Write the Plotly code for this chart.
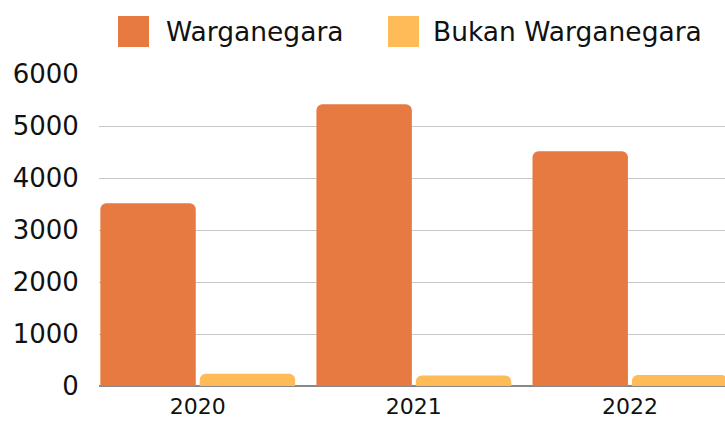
import plotly.graph_objects as go

# data
years = ['2020', '2021', '2022']
warganegara = [3515, 5420, 4515]
bukan_warganegara = [235, 200, 213]
series_names = ['Warganegara', 'Bukan Warganegara']
series_colours = ['#E67A40', '#FFBB58']
y_ticks = [0, 1000, 2000, 3000, 4000, 5000, 6000]

FONT = 'DejaVu Sans'
W, H = 725, 421
M_L, M_R, M_T, M_B = 99, 0, 74, 35


def px_x(p):
    """pixel x -> paper x"""
    return (p - M_L) / (W - M_L - M_R)


def px_y(p):
    """pixel y -> paper y"""
    return (H - M_B - p) / (H - M_T - M_B)


fig = go.Figure()
for name, vals, col in zip(series_names, [warganegara, bukan_warganegara], series_colours):
    fig.add_trace(go.Bar(x=years, y=vals, name=name,
                         marker=dict(color=col, line=dict(width=0), cornerradius=6),
                         showlegend=False))

# hand-drawn legend so the swatches can be large
legend_items = [(118, 167), (388, 434)]
for (sx, tx), name, col in zip(legend_items, series_names, series_colours):
    fig.add_shape(type='rect', xref='paper', yref='paper',
                  x0=px_x(sx), x1=px_x(sx + 31), y0=px_y(47), y1=px_y(16),
                  fillcolor=col, line=dict(width=0))
    fig.add_annotation(x=px_x(tx), y=px_y(31), xref='paper', yref='paper',
                       text=name, showarrow=False, xanchor='left', yanchor='middle',
                       xshift=-3,
                       font=dict(family=FONT, size=26.5, color='#111111'))

fig.update_layout(
    width=W, height=H,
    margin=dict(l=M_L, r=M_R, t=M_T, b=M_B, autoexpand=False),
    plot_bgcolor='white', paper_bgcolor='white',
    barmode='group', bargap=0.08, bargroupgap=0.04,
    font=dict(family=FONT, size=22, color='#111111'),
)
fig.update_xaxes(range=[-0.457, 2.44], showgrid=False, showline=False,
                 automargin=False,
                 ticks='outside', ticklen=1, tickcolor='rgba(0,0,0,0)',
                 tickfont=dict(size=22))
fig.update_yaxes(range=[0, 6000], tickvals=y_ticks, showgrid=True,
                 automargin=False,
                 gridcolor='#C8C8C8', gridwidth=1,
                 zeroline=True, zerolinecolor='#888888', zerolinewidth=1.5,
                 ticks='outside', ticklen=14, tickcolor='rgba(0,0,0,0)',
                 tickfont=dict(size=26))

# drop the default 8px body margin so the figure fills the window exactly
fig.write_html("out.html",
               config={'displayModeBar': False},
               post_script="document.body.style.margin='0';"
                           "document.body.style.overflow='hidden';")
